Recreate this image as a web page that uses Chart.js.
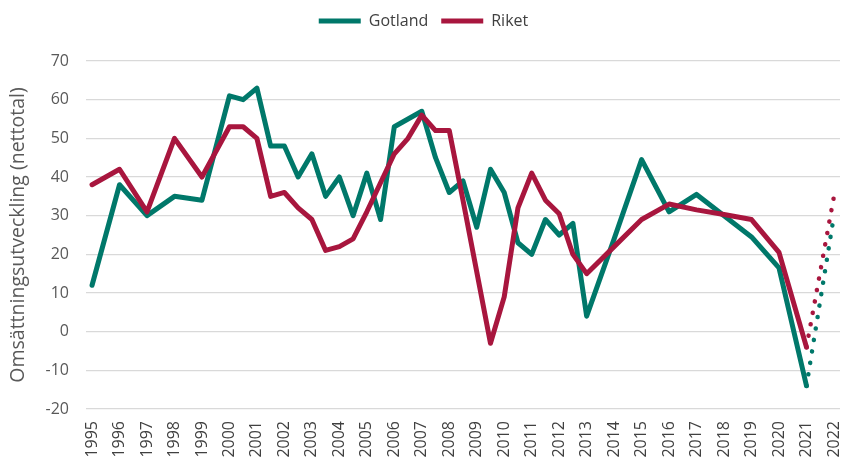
<!DOCTYPE html>
<html>
<head>
<meta charset="utf-8">
<script src="https://cdn.jsdelivr.net/npm/chart.js@4/dist/chart.umd.min.js"></script>
<style>
  html, body { margin: 0; padding: 0; background: #fff; }
  #wrap { width: 842px; height: 459px; }
</style>
</head>
<body>
<div id="wrap"><canvas id="omsChart"></canvas></div>
<script>
// tidpunkter (helår 1995-1999, halvår 2000-2013, helår därefter)
const perioder = [1995, 1996, 1997, 1998, 1999,
    2000, 2000.5, 2001, 2001.5, 2002, 2002.5, 2003, 2003.5, 2004, 2004.5,
    2005, 2005.5, 2006, 2006.5, 2007, 2007.5, 2008, 2008.5, 2009, 2009.5,
    2010, 2010.5, 2011, 2011.5, 2012, 2012.5, 2013,
    2014, 2015, 2016, 2017, 2018, 2019, 2020, 2021];

const gotland = [12, 38, 30, 35, 34,
    61, 60, 63, 48, 48, 40, 46, 35, 40, 30,
    41, 29, 53, 55, 57, 45, 36, 39, 27, 42,
    36, 23, 20, 29, 25, 28, 4,
    24, 44.5, 31, 35.5, 30, 24.5, 16.5, -14];

const riket = [38, 42, 31, 50, 40,
    53, 53, 50, 35, 36, 32, 29, 21, 22, 24,
    31, 38.5, 46, 50, 56, 52, 52, 34, 15.5, -3,
    9, 32, 41, 34, 30.5, 20, 15,
    22, 29, 33, 31.5, 30.3, 29, 20.5, -4];

// prognos 2021 -> 2022 (prickad)
const prognosPerioder = [2021, 2022];
const gotlandPrognos = [-14, 30];
const riketPrognos = [-4, 35];

const yTicks = [-20, -10, 0, 10, 20, 30, 40, 50, 60, 70];

const GREEN = '#00786a';
const RED = '#a8163e';
const FONT = "'Open Sans', sans-serif";

const toPoints = (xs, ys) => xs.map((x, i) => ({ x: x, y: ys[i] }));

// lite luft mellan legenden och diagramytan
const legendGap = {
    id: 'legendGap',
    beforeLayout(chart) {
        const lg = chart.legend;
        if (lg && !lg._gap) {
            const fit = lg.fit;
            lg.fit = function () {
                fit.call(this);
                this.height += 22;
            };
            lg._gap = true;
        }
    }
};

new Chart(document.getElementById('omsChart'), {
    type: 'line',
    data: {
        datasets: [
            {
                label: 'Gotland',
                data: toPoints(perioder, gotland),
                borderColor: GREEN,
                backgroundColor: GREEN,
                borderWidth: 5,
                borderCapStyle: 'round',
                borderJoinStyle: 'round',
                pointRadius: 0,
                tension: 0,
                order: 2
            },
            {
                label: 'Riket',
                data: toPoints(perioder, riket),
                borderColor: RED,
                backgroundColor: RED,
                borderWidth: 5,
                borderCapStyle: 'round',
                borderJoinStyle: 'round',
                pointRadius: 0,
                tension: 0,
                order: 1
            },
            {
                label: 'Gotland prognos',
                data: toPoints(prognosPerioder, gotlandPrognos),
                borderColor: GREEN,
                borderWidth: 4.5,
                borderDash: [0.1, 11.5],
                borderCapStyle: 'round',
                pointRadius: 0,
                order: 4
            },
            {
                label: 'Riket prognos',
                data: toPoints(prognosPerioder, riketPrognos),
                borderColor: RED,
                borderWidth: 4.5,
                borderDash: [0.1, 11.5],
                borderCapStyle: 'round',
                pointRadius: 0,
                order: 3
            }
        ]
    },
    plugins: [legendGap],
    options: {
        responsive: true,
        maintainAspectRatio: false,
        animation: false,
        layout: { padding: { top: 0, right: 2, left: 7, bottom: 0 } },
        plugins: {
            legend: {
                position: 'top',
                labels: {
                    filter: item => item.datasetIndex < 2,
                    sort: (a, b) => a.datasetIndex - b.datasetIndex,
                    usePointStyle: true,
                    pointStyle: 'line',
                    pointStyleWidth: 42,
                    boxHeight: 5,
                    padding: 13,
                    color: '#404040',
                    font: { family: FONT, size: 16 }
                }
            },
            tooltip: { enabled: false }
        },
        scales: {
            x: {
                type: 'linear',
                min: 1994.78,
                max: 2022.22,
                grid: { display: false },
                border: { display: false },
                ticks: {
                    stepSize: 1,
                    includeBounds: false,
                    autoSkip: false,
                    maxRotation: 90,
                    minRotation: 90,
                    padding: 4,
                    color: '#404040',
                    font: { family: FONT, size: 16 },
                    callback: v => String(v)
                },
                afterFit: scale => {
                    scale.height = 50;
                    scale.paddingLeft = 0;
                    scale.paddingRight = 0;
                }
            },
            y: {
                min: -20,
                max: 70,
                afterBuildTicks: scale => {
                    scale.ticks = yTicks.map(v => ({ value: v }));
                },
                grid: { color: '#d9d9d9', lineWidth: 1.2, drawTicks: false },
                border: { display: false },
                ticks: {
                    padding: 17,
                    color: '#595959',
                    font: { family: FONT, size: 16 }
                },
                title: {
                    display: true,
                    text: 'Omsättningsutveckling (nettotal)',
                    color: '#595959',
                    font: { family: FONT, size: 19.5 },
                    padding: { top: 0, bottom: 0 }
                },
                afterFit: scale => { scale.width = 79; }
            }
        }
    }
});
</script>
</body>
</html>
